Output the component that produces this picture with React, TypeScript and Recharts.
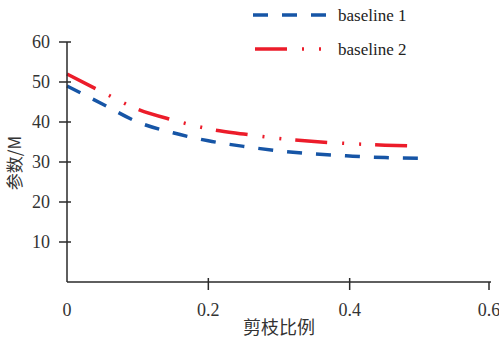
import React from "react";
import { Line, LineChart, XAxis, YAxis } from "recharts";

const ratios = [0, 0.05, 0.1, 0.15, 0.2, 0.25, 0.3, 0.35, 0.4, 0.45, 0.5];
const baseline1 = [49, 44.5, 40, 37.3, 35.3, 33.9, 32.8, 32, 31.5, 31.1, 30.9];
const baseline2 = [52, 47.5, 43.2, 40.5, 38.3, 37, 35.9, 35.1, 34.6, 34.2, 34];

const xTicks = [0, 0.2, 0.4, 0.6];
const yTicks = [10, 20, 30, 40, 50, 60];

const data = ratios.map((r, i) => ({ r, b1: baseline1[i], b2: baseline2[i] }));

const BLUE = "#1655a6";
const RED = "#ec1c2a";
const AXIS = "#2a2a2a";
const SERIF = "Liberation Serif, DejaVu Serif, serif";
const CJK = "Noto Sans CJK SC, sans-serif";

const BLUE_DASH = "15 14";
const RED_DASH = "32 15 2 15 2 14";

const XTick = (props: any) => {
  const { x, y, payload } = props;
  const v = payload.value;
  return (
    <g>
      {v !== 0 && <line x1={x} x2={x} y1={y} y2={y - (v === 0.6 ? 8 : 12)} stroke={AXIS} strokeWidth={1.5} />}
      <text x={x} y={y + 26} textAnchor="middle" style={{ fontFamily: SERIF, fontSize: 18 }} fill="#333">
        {v === 0 ? "0" : String(v)}
      </text>
    </g>
  );
};

const YTick = (props: any) => {
  const { x, y, payload } = props;
  return (
    <g>
      <line x1={x} x2={x + 12} y1={y} y2={y} stroke={AXIS} strokeWidth={1.5} />
      <text x={x - 9} y={y + 6} textAnchor="end" style={{ fontFamily: SERIF, fontSize: 18 }} fill="#333">
        {payload.value}
      </text>
    </g>
  );
};

const XLabel = (props: any) => {
  const { viewBox } = props;
  return (
    <text x={viewBox.x + viewBox.width / 2 - 0} y={334} textAnchor="middle" style={{ fontFamily: CJK, fontSize: 18 }} fill="#333">
      剪枝比例
    </text>
  );
};

const YLabel = () => (
  <text x={21} y={163} transform="rotate(-90 21 163)" textAnchor="middle" style={{ fontFamily: CJK, fontSize: 17 }} fill="#333">
    参数/M
  </text>
);

const LegendBox = () => (
  <svg width={220} height={60} style={{ position: "absolute", left: 251, top: 1 }}>
    <line x1={2} x2={76} y1={14} y2={14} stroke={BLUE} strokeWidth={3.5} strokeDasharray={BLUE_DASH} />
    <text x={87} y={20} style={{ fontFamily: SERIF, fontSize: 17 }} fill="#222">baseline 1</text>
    <line x1={4} x2={78} y1={48} y2={48} stroke={RED} strokeWidth={3.5} strokeDasharray={RED_DASH} />
    <text x={87} y={54} style={{ fontFamily: SERIF, fontSize: 17 }} fill="#222">baseline 2</text>
  </svg>
);

export default function App() {
  return (
    <div style={{ position: "fixed", left: 0, top: 0, width: 499, height: 338, background: "#fff" }}>
      <LineChart width={499} height={338} data={data} margin={{ top: 42, right: 8, bottom: 0, left: 0 }}>
        <XAxis
          dataKey="r"
          type="number"
          domain={[0, 0.6]}
          ticks={xTicks}
          tickLine={false}
          tick={<XTick />}
          height={56}
          axisLine={{ stroke: AXIS, strokeWidth: 1.5 }}
          label={<XLabel />}
        />
        <YAxis
          type="number"
          domain={[0, 60]}
          ticks={yTicks}
          tickLine={false}
          tick={<YTick />}
          width={67}
          axisLine={{ stroke: AXIS, strokeWidth: 1.5 }}
          label={<YLabel />}
        />
        <Line
          type="monotone"
          dataKey="b1"
          name="baseline 1"
          stroke={BLUE}
          strokeWidth={3.5}
          strokeDasharray={BLUE_DASH}
          dot={false}
          isAnimationActive={false}
        />
        <Line
          type="monotone"
          dataKey="b2"
          name="baseline 2"
          stroke={RED}
          strokeWidth={3.5}
          strokeDasharray={RED_DASH}
          dot={false}
          isAnimationActive={false}
        />
      </LineChart>
      <LegendBox />
    </div>
  );
}
